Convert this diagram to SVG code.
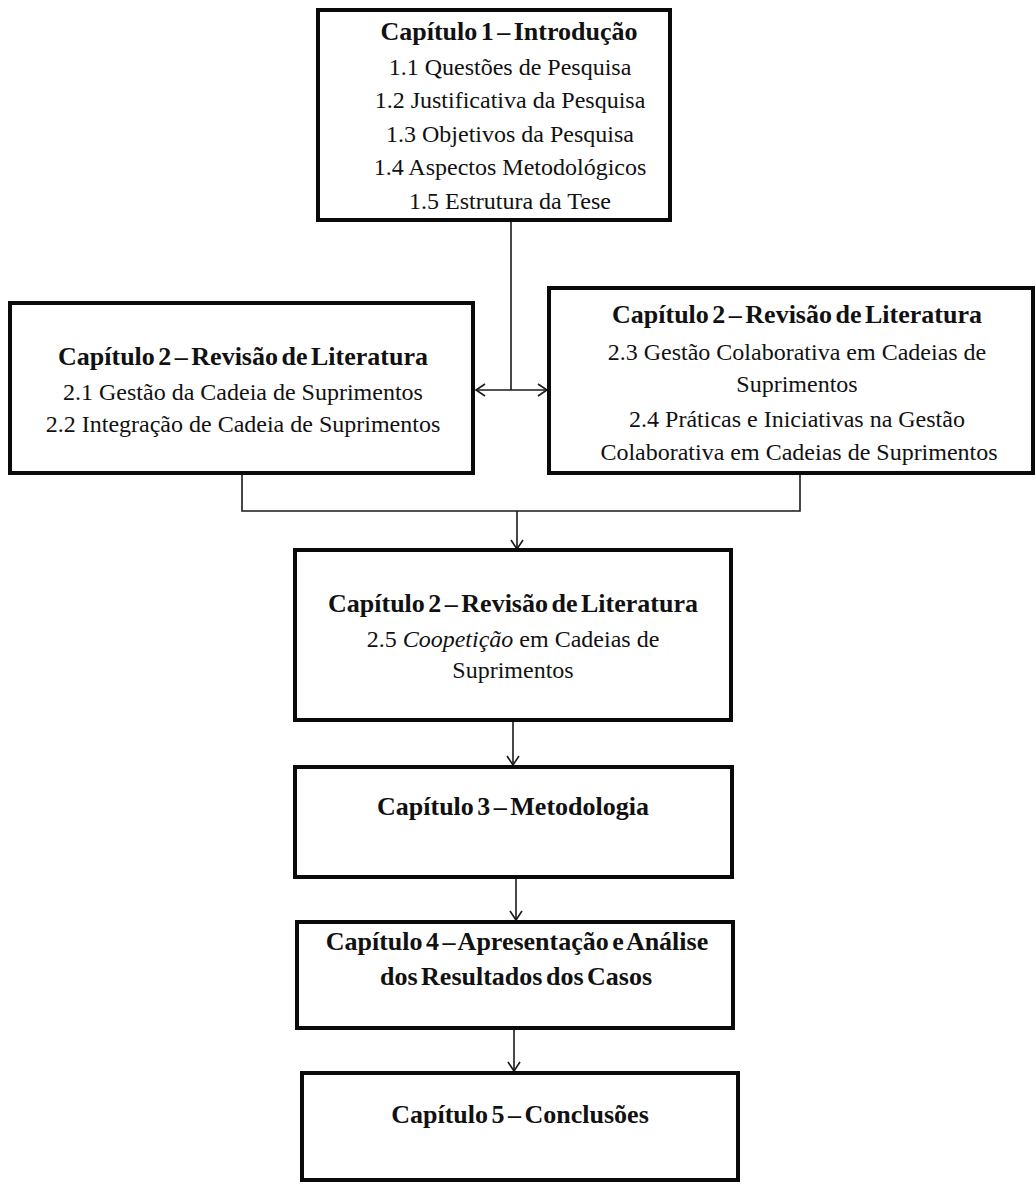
<svg xmlns="http://www.w3.org/2000/svg" width="1036" height="1184" viewBox="0 0 1036 1184">
  <style>
    .box { fill: #ffffff; stroke: #0a0a0a; stroke-width: 4; }
    .link { fill: none; stroke: #1a1a1a; stroke-width: 1.6; }
    text { font-family: "Liberation Serif", "Times New Roman", serif; font-size: 24px; fill: #111111; text-anchor: middle; }
    .title { font-weight: bold; font-size: 26px; word-spacing: -3px; }
  </style>
  <defs>
    <marker id="arrow" markerWidth="14" markerHeight="14" refX="11" refY="7" orient="auto-start-reverse" markerUnits="userSpaceOnUse">
      <path d="M2,1 L11,7 L2,13" fill="none" stroke="#1a1a1a" stroke-width="1.6"/>
    </marker>
  </defs>
  <rect width="1036" height="1184" fill="#ffffff"/>

  <!-- connectors -->
  <g id="connectors">
    <line class="link" x1="511" y1="220" x2="511" y2="390"/>
    <line class="link" x1="476" y1="390" x2="547" y2="390" marker-start="url(#arrow)" marker-end="url(#arrow)"/>
    <polyline class="link" points="242,475 242,511 800,511 800,475"/>
    <line class="link" x1="517" y1="511" x2="517" y2="549" marker-end="url(#arrow)"/>
    <line class="link" x1="513" y1="722" x2="513" y2="765" marker-end="url(#arrow)"/>
    <line class="link" x1="516" y1="877" x2="516" y2="920" marker-end="url(#arrow)"/>
    <line class="link" x1="514" y1="1028" x2="514" y2="1071" marker-end="url(#arrow)"/>
  </g>

  <!-- chapter 1 -->
  <g id="cap1">
    <rect class="box" x="318" y="10" width="352" height="210"/>
    <text class="title" x="509" y="40">Capítulo 1 – Introdução</text>
    <text x="510" y="75">1.1 Questões de Pesquisa</text>
    <text x="510" y="108">1.2 Justificativa da Pesquisa</text>
    <text x="510" y="142">1.3 Objetivos da Pesquisa</text>
    <text x="510" y="175">1.4 Aspectos Metodológicos</text>
    <text x="510" y="209">1.5 Estrutura da Tese</text>
  </g>

  <!-- chapter 2, sections 2.1-2.2 -->
  <g id="cap2a">
    <rect class="box" x="10" y="303" width="463" height="170"/>
    <text class="title" x="243" y="365">Capítulo 2 – Revisão de Literatura</text>
    <text x="243" y="400">2.1 Gestão da Cadeia de Suprimentos</text>
    <text x="243" y="432">2.2 Integração de Cadeia de Suprimentos</text>
  </g>

  <!-- chapter 2, sections 2.3-2.4 -->
  <g id="cap2b">
    <rect class="box" x="549" y="288" width="484" height="185"/>
    <text class="title" x="797" y="323">Capítulo 2 – Revisão de Literatura</text>
    <text x="797" y="360">2.3 Gestão Colaborativa em Cadeias de</text>
    <text x="797" y="392">Suprimentos</text>
    <text x="797" y="427">2.4 Práticas e Iniciativas na Gestão</text>
    <text x="799" y="460">Colaborativa em Cadeias de Suprimentos</text>
  </g>

  <!-- chapter 2, section 2.5 -->
  <g id="cap2c">
    <rect class="box" x="295" y="550" width="436" height="170"/>
    <text class="title" x="513" y="612">Capítulo 2 – Revisão de Literatura</text>
    <text x="513" y="647">2.5 <tspan font-style="italic">Coopetição</tspan> em Cadeias de</text>
    <text x="513" y="678">Suprimentos</text>
  </g>

  <!-- chapter 3 -->
  <g id="cap3">
    <rect class="box" x="295" y="767" width="437" height="110"/>
    <text class="title" x="513" y="815">Capítulo 3 – Metodologia</text>
  </g>

  <!-- chapter 4 -->
  <g id="cap4">
    <rect class="box" x="297" y="922" width="436" height="106"/>
    <text class="title" x="517" y="950">Capítulo 4 – Apresentação e Análise</text>
    <text class="title" x="516" y="985">dos Resultados dos Casos</text>
  </g>

  <!-- chapter 5 -->
  <g id="cap5">
    <rect class="box" x="302" y="1073" width="436" height="107"/>
    <text class="title" x="520" y="1123">Capítulo 5 – Conclusões</text>
  </g>
</svg>
